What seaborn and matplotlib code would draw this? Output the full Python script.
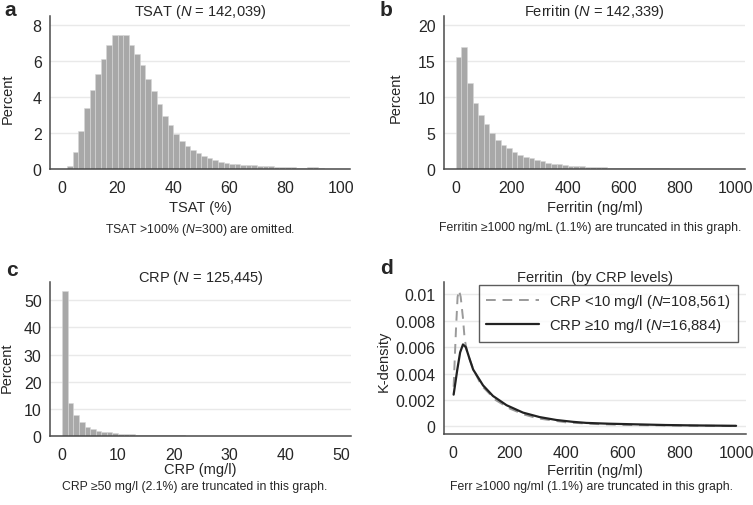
import numpy as np
import pandas as pd
import matplotlib
matplotlib.use("Agg")
import matplotlib.pyplot as plt
import seaborn as sns

# %%
# TSAT histogram, bins of 2 %
tsat_width = 2
tsat_pct = [0.02, 0.18, 0.92, 2.1, 3.4, 4.38, 5.27, 6.1, 6.9, 7.45,
            7.45, 7.42, 6.88, 6.38, 5.77, 5.0, 4.34, 3.6, 2.96, 2.44,
            1.94, 1.57, 1.29, 1.05, 0.9, 0.75, 0.6, 0.5, 0.4, 0.35,
            0.3, 0.27, 0.25, 0.22, 0.2, 0.18, 0.15, 0.14, 0.12, 0.11,
            0.1, 0.09, 0.08, 0.08, 0.1, 0.09, 0.07]

# Ferritin histogram, bins of 20 ng/ml
ferr_width = 20
ferr_pct = [15.6, 17.0, 12.0, 9.24, 7.5, 6.2, 4.95, 4.06, 3.37, 2.86,
            2.4, 2.0, 1.7, 1.48, 1.25, 1.06, 0.88, 0.74, 0.65, 0.55,
            0.48, 0.42, 0.37, 0.33, 0.29, 0.26, 0.23, 0.2, 0.18, 0.16,
            0.14, 0.12, 0.11, 0.1, 0.09, 0.08, 0.07, 0.07, 0.06, 0.06,
            0.05, 0.05, 0.05, 0.04, 0.04, 0.04, 0.04, 0.03, 0.03, 0.03]

# CRP histogram, bins of 1 mg/l
crp_width = 1
crp_pct = [53.4, 12.0, 7.7, 5.0, 3.4, 2.6, 2.0, 1.6, 1.3, 1.0,
           0.85, 0.7, 0.6, 0.5, 0.42, 0.35, 0.3, 0.28, 0.25, 0.22,
           0.2, 0.19, 0.17, 0.16, 0.15, 0.14, 0.13, 0.12, 0.11, 0.1,
           0.1, 0.09, 0.09, 0.08, 0.08, 0.07, 0.07, 0.07, 0.06, 0.06,
           0.06, 0.05, 0.05, 0.05, 0.05, 0.05, 0.04, 0.04, 0.04, 0.04]

# Ferritin kernel densities by CRP level
kd_x_low = [2, 10, 16, 21, 27, 35, 41, 50, 70, 100, 150, 200, 250, 300, 400, 500, 600, 700, 800, 900, 1000]
kd_low = [0.0030, 0.0072, 0.0098, 0.0103, 0.0098, 0.0082, 0.0066, 0.0056, 0.0044, 0.0031, 0.0020,
          0.00135, 0.00090, 0.00060, 0.00030, 0.00018, 0.00011, 0.00008, 0.00006, 0.00004, 0.00002]
kd_x_high = [2, 15, 25, 35, 45, 60, 71, 106, 141, 189, 247, 306, 365, 424, 471, 550, 650, 750, 850, 1000]
kd_high = [0.0024, 0.0043, 0.0056, 0.0062, 0.0060, 0.0050, 0.0043, 0.0031, 0.0023, 0.0016, 0.00104,
           0.0007, 0.00048, 0.00034, 0.00026, 0.0002, 0.00015, 0.0001, 0.00007, 0.00004]

# %%
sns.set_style("white")
plt.rcParams['font.family'] = ['Liberation Sans', 'DejaVu Sans']
plt.rcParams['mathtext.fontset'] = 'custom'
plt.rcParams['mathtext.rm'] = 'Liberation Sans'
plt.rcParams['mathtext.it'] = 'Liberation Sans:italic'

W, H = 753, 506
fig = plt.figure(figsize=(W / 100, H / 100), dpi=100)

def box(l, t, r, b):
    return [l / W, 1 - b / H, (r - l) / W, (b - t) / H]

axc = "#4a4a4a"
barc = "#a8a8a8"
tick_fs = 11.5
lab_fs = 10.5

def style(ax, xticks, yticks, yticklabels=None):
    sns.despine(ax=ax)
    for s in ["left", "bottom"]:
        ax.spines[s].set_color(axc)
        ax.spines[s].set_linewidth(1.1)
    ax.set_xticks(xticks)
    ax.set_yticks(yticks)
    if yticklabels is not None:
        ax.set_yticklabels(yticklabels)
    ax.tick_params(axis="both", direction="out", length=4, width=1, color=axc,
                   labelsize=tick_fs)
    ax.tick_params(axis="x", pad=4)
    ax.tick_params(axis="y", pad=2)
    ax.yaxis.grid(True, color="#e9e9e9", linewidth=1)
    ax.set_axisbelow(True)

def labels(ax, xl, yl, title, xlab_y, ylab_x, ylab_y):
    ax.set_ylabel(yl, fontsize=lab_fs)
    ax.set_xlabel(xl, fontsize=lab_fs)
    ax.xaxis.set_label_coords(0.5, xlab_y)
    ax.yaxis.set_label_coords(ylab_x, ylab_y)
    ax.set_title(title, fontsize=lab_fs, pad=1)

def hist(ax, width, pct):
    centers = width * (np.arange(len(pct)) + 0.5)
    df = pd.DataFrame({"x": centers, "w": pct})
    sns.histplot(data=df, x="x", weights="w", binwidth=width,
                 binrange=(0, width * len(pct)), stat="count",
                 color=barc, edgecolor="#d8d8d8", linewidth=0.4, alpha=1, ax=ax)

# panel a
ax1 = fig.add_axes(box(50, 17, 350, 170))
hist(ax1, tsat_width, tsat_pct)
ax1.set_xlim(-4.2, 103.3)
ax1.set_ylim(0, 8.5)
style(ax1, range(0, 101, 20), range(0, 9, 2))
labels(ax1, "TSAT (%)", "Percent", "TSAT ($N$ = 142,039)", -0.205, -0.117, 0.465)

# panel b
ax2 = fig.add_axes(box(444, 17, 745, 170))
hist(ax2, ferr_width, ferr_pct)
ax2.set_xlim(-42, 1033)
ax2.set_ylim(0, 21.3)
style(ax2, range(0, 1001, 200), range(0, 21, 5))
labels(ax2, "Ferritin (ng/ml)", "Percent", "Ferritin ($N$ = 142,339)", -0.2, -0.136, 0.47)

# panel c
ax3 = fig.add_axes(box(50, 283, 351, 437))
hist(ax3, crp_width, crp_pct)
ax3.set_xlim(-2.2, 51.8)
ax3.set_ylim(0, 56.7)
style(ax3, range(0, 51, 10), range(0, 51, 10))
labels(ax3, "CRP (mg/l)", "Percent", "CRP ($N$ = 125,445)", -0.168, -0.122, 0.45)

# panel d
ax4 = fig.add_axes(box(444, 283, 746, 435))
sns.lineplot(x=kd_x_low, y=kd_low, color="#9a9a9a", linestyle=(0, (5, 3.5)), linewidth=1.4,
             label="CRP <10 mg/l ($N$=108,561)", ax=ax4)
sns.lineplot(x=kd_x_high, y=kd_high, color="#222222", linewidth=1.6,
             label="CRP \u226510 mg/l ($N$=16,884)", ax=ax4)
ax4.set_xlim(-32, 1035)
ax4.set_ylim(-0.00058, 0.01093)
style(ax4, range(0, 1001, 200), [0, 0.002, 0.004, 0.006, 0.008, 0.01],
      ["0", "0.002", "0.004", "0.006", "0.008", "0.01"])
labels(ax4, "Ferritin (ng/ml)", "K-density", "Ferritin  (by CRP levels)", -0.19, -0.175, 0.486)
leg = ax4.legend(loc="upper right", bbox_to_anchor=(0.9735, 0.982), borderaxespad=0,
                 fontsize=10.7, frameon=True, fancybox=False,
                 handlelength=3.56, borderpad=0.5, labelspacing=0.4, handletextpad=0.67)
leg.get_frame().set_edgecolor("#333333")
leg.get_frame().set_linewidth(1)

# panel letters and notes
for lab, x, y in [("a", 4, 10), ("b", 380, 10), ("c", 6, 270), ("d", 380, 268)]:
    fig.text(x / W, 1 - y / H, lab, fontsize=15, fontweight="bold", va="center")

notes = [("TSAT >100% ($N$=300) are omitted.", 200, 230),
         ("Ferritin \u22651000 ng/mL (1.1%) are truncated in this graph.", 590, 228),
         ("CRP \u226550 mg/l (2.1%) are truncated in this graph.", 195, 487),
         ("Ferr \u22651000 ng/ml (1.1%) are truncated in this graph.", 592, 487)]
for txt, x, y in notes:
    fig.text(x / W, 1 - y / H, txt, fontsize=8.8, ha="center", va="center")

fig.savefig("out.png", dpi=100)
